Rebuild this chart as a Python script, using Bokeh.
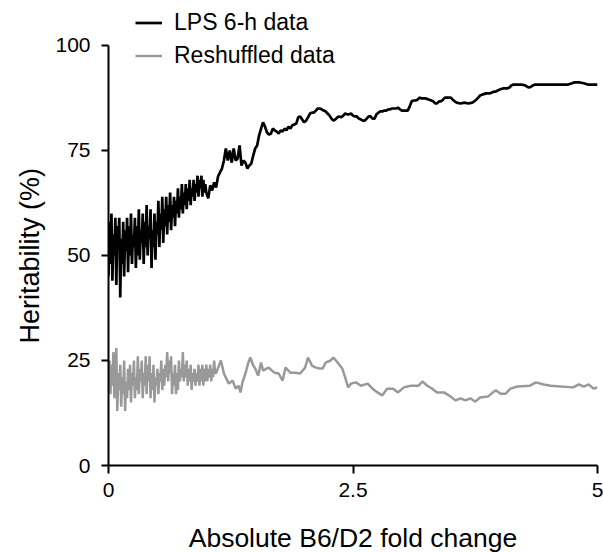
from bokeh.plotting import figure
from bokeh.models import Legend, LegendItem, FixedTicker, Range1d, Title
from bokeh.embed import file_html
from bokeh.resources import INLINE

# ---- data ----
lps_x = [0.00, 0.01, 0.02, 0.03, 0.04, 0.05, 0.06, 0.07, 0.08, 0.09,
         0.10, 0.11, 0.12, 0.13, 0.14, 0.15, 0.16, 0.17, 0.18, 0.19,
         0.20, 0.21, 0.22, 0.23, 0.24, 0.25, 0.26, 0.27, 0.28, 0.29,
         0.30, 0.31, 0.32, 0.33, 0.34, 0.35, 0.36, 0.37, 0.38, 0.39,
         0.40, 0.41, 0.42, 0.43, 0.44, 0.45, 0.46, 0.47, 0.48, 0.49,
         0.50, 0.51, 0.52, 0.53, 0.54, 0.55, 0.56, 0.57, 0.58, 0.59,
         0.60, 0.61, 0.62, 0.63, 0.64, 0.65, 0.66, 0.67, 0.68, 0.69,
         0.70, 0.71, 0.72, 0.73, 0.74, 0.75, 0.76, 0.77, 0.78, 0.79,
         0.80, 0.81, 0.82, 0.83, 0.84, 0.85, 0.86, 0.87, 0.88, 0.89,
         0.90, 0.91, 0.92, 0.93, 0.94, 0.95, 0.96, 0.97, 0.98, 0.99, 1.00,
         1.02, 1.04, 1.06, 1.08, 1.10, 1.12, 1.14, 1.16, 1.18, 1.20, 1.22, 1.24, 1.26, 1.28, 1.30,
         1.32, 1.34, 1.36, 1.38, 1.40, 1.42, 1.44, 1.46, 1.48, 1.50, 1.52, 1.54, 1.56, 1.58, 1.60,
         1.62, 1.64, 1.66, 1.68, 1.70, 1.72, 1.74, 1.76, 1.78, 1.80, 1.82, 1.84, 1.86, 1.88, 1.90,
         1.92, 1.94, 1.96, 1.98, 2.00, 2.02, 2.04, 2.06, 2.08, 2.10, 2.12, 2.14, 2.16, 2.18, 2.20,
         2.22, 2.24, 2.26, 2.28, 2.30, 2.32, 2.34, 2.36, 2.38, 2.40, 2.42, 2.44, 2.46, 2.48, 2.50,
         2.52, 2.54, 2.56, 2.58, 2.60, 2.62, 2.64, 2.66, 2.68, 2.70, 2.72, 2.74, 2.76, 2.78, 2.80,
         2.82, 2.84, 2.86, 2.88, 2.90, 2.92, 2.94, 2.96, 2.98, 3.00, 3.02, 3.04, 3.06, 3.08, 3.10,
         3.12, 3.14, 3.16, 3.18, 3.20, 3.24, 3.28, 3.32, 3.34, 3.36, 3.38, 3.40, 3.42, 3.44, 3.46,
         3.48, 3.50, 3.52, 3.54, 3.56, 3.60, 3.64, 3.68, 3.72, 3.74, 3.76, 3.78, 3.80, 3.82, 3.86,
         3.90, 3.92, 3.94, 3.96, 3.98, 4.00, 4.04, 4.08, 4.10, 4.12, 4.14, 4.18, 4.22, 4.26, 4.28,
         4.30, 4.32, 4.34, 4.36, 4.50, 4.60, 4.70, 4.74, 4.76, 4.82, 4.86, 4.90, 5.00]
lps_y = [45, 58, 48, 60, 44, 55, 50, 59, 43, 57,
         52, 59, 40, 54, 48, 58, 45, 56, 51, 59,
         46, 57, 50, 60, 48, 55, 52, 59, 47, 57,
         50, 61, 49, 56, 53, 60, 48, 58, 52, 62,
         50, 57, 54, 61, 47, 56, 52, 60, 49, 58,
         55, 63, 52, 60, 56, 64, 53, 61, 57, 64,
         55, 62, 58, 65, 56, 62, 59, 64, 57, 63,
         60, 66, 59, 64, 61, 67, 60, 65, 62, 67,
         61, 66, 63, 68, 62, 66, 64, 68, 63, 67,
         65, 69, 64, 68, 66, 69, 64, 68, 65, 67, 65,
         63.6, 66.7, 65.5, 67.4, 66.2, 68.8, 69.8, 70.7, 72.6, 75.5, 72.6, 75.0, 72.1, 75.5, 72.6,
         73.1, 76.2, 71.4, 72.6, 72.1, 70.7, 71.4, 71.9, 73.8, 75.5, 76.2, 78.6, 80.2, 81.7, 80.7,
         79.3, 78.8, 79.0, 80.2, 79.8, 79.5, 79.0, 79.8, 79.5, 80.2, 79.8, 80.7, 80.2, 81.0, 81.2,
         81.4, 82.9, 83.1, 82.4, 81.7, 82.1, 82.9, 83.8, 84.0, 84.0, 84.5, 85.0, 85.0, 84.8, 84.5,
         84.3, 83.8, 83.3, 82.6, 82.1, 82.4, 82.9, 83.1, 82.9, 83.3, 83.8, 83.6, 83.6, 83.8, 83.3,
         83.1, 83.1, 82.6, 82.4, 82.1, 82.1, 82.6, 83.1, 83.1, 82.6, 82.6, 83.6, 84.0, 84.3, 84.3,
         84.5, 84.5, 84.8, 84.8, 85.0, 85.0, 85.0, 85.2, 84.8, 84.5, 84.5, 84.5, 84.5, 85.5, 86.7,
         86.9, 86.9, 87.1, 87.6, 87.4, 87.4, 87.1, 86.7, 86.2, 86.2, 86.7, 86.7, 87.1, 87.6, 87.6,
         87.6, 87.6, 87.1, 86.7, 86.4, 86.2, 86.4, 86.2, 86.4, 86.7, 87.1, 87.6, 88.1, 88.3, 88.6,
         88.6, 88.8, 89.0, 89.0, 89.3, 89.5, 89.8, 89.8, 90.0, 90.5, 90.7, 90.7, 90.7, 90.5, 90.2,
         90.0, 90.2, 90.5, 90.7, 90.7, 90.7, 90.7, 91.0, 91.2, 91.2, 91.0, 90.7, 90.7]

shuf_x = [0.00, 0.01, 0.02, 0.03, 0.04, 0.05, 0.06, 0.07, 0.08, 0.09,
          0.10, 0.11, 0.12, 0.13, 0.14, 0.15, 0.16, 0.17, 0.18, 0.19,
          0.20, 0.21, 0.22, 0.23, 0.24, 0.25, 0.26, 0.27, 0.28, 0.29,
          0.30, 0.31, 0.32, 0.33, 0.34, 0.35, 0.36, 0.37, 0.38, 0.39,
          0.40, 0.41, 0.42, 0.43, 0.44, 0.45, 0.46, 0.47, 0.48, 0.49,
          0.50, 0.51, 0.52, 0.53, 0.54, 0.55, 0.56, 0.57, 0.58, 0.59,
          0.60, 0.61, 0.62, 0.63, 0.64, 0.65, 0.66, 0.67, 0.68, 0.69,
          0.70, 0.71, 0.72, 0.73, 0.74, 0.75, 0.76, 0.77, 0.78, 0.79,
          0.80, 0.81, 0.82, 0.83, 0.84, 0.85, 0.86, 0.87, 0.88, 0.89,
          0.90, 0.91, 0.92, 0.93, 0.94, 0.95, 0.96, 0.97, 0.98, 0.99,
          1.00, 1.01, 1.02, 1.03, 1.04, 1.05, 1.06, 1.07, 1.08, 1.09, 1.10,
          1.15, 1.18, 1.23, 1.27, 1.30, 1.33, 1.35, 1.37, 1.40, 1.43, 1.45, 1.48, 1.50, 1.53,
          1.56, 1.58, 1.62, 1.64, 1.67, 1.70, 1.74, 1.78, 1.81, 1.86, 1.91, 1.96, 2.01, 2.04, 2.08,
          2.12, 2.16, 2.19, 2.22, 2.27, 2.30, 2.35, 2.39, 2.42, 2.45, 2.48, 2.53, 2.58, 2.65, 2.70,
          2.75, 2.80, 2.85, 2.91, 2.96, 3.02, 3.09, 3.17, 3.21, 3.26, 3.31, 3.36, 3.43, 3.48, 3.55,
          3.60, 3.65, 3.70, 3.75, 3.80, 3.88, 3.93, 3.96, 4.01, 4.06, 4.11, 4.18, 4.31, 4.37, 4.45,
          4.52, 4.75, 4.81, 4.86, 4.91, 4.96, 5.00]
shuf_y = [20, 25, 17, 24, 19, 27, 16, 23, 28, 13,
          22, 18, 24, 14, 21, 17, 25, 13, 20, 16,
          23, 18, 24, 15, 22, 19, 25, 16, 21, 18,
          26, 17, 23, 20, 25, 16, 22, 19, 26, 17,
          24, 20, 26, 16, 22, 18, 24, 15, 21, 19,
          23, 17, 22, 20, 25, 18, 23, 19, 24, 21,
          27, 20, 25, 22, 26, 17, 22, 19, 24, 17,
          22, 18, 25, 20, 23, 21, 27, 20, 24, 21,
          25, 19, 23, 20, 24, 18, 22, 20, 23, 19,
          22, 20, 24, 19, 23, 20, 24, 19, 23, 20,
          24, 20, 23, 21, 24, 20, 23, 21, 25, 22, 22,
          25.0, 21.9, 19.5, 20.2, 18.3, 19.0, 17.4, 19.8, 21.9, 24.5, 25.7, 23.8, 23.1, 21.4,
          24.5, 22.6, 23.1, 23.3, 22.6, 22.1, 21.9, 20.2, 23.3, 22.1, 22.1, 21.9, 23.3, 25.7, 23.8,
          23.3, 23.1, 23.1, 24.5, 25.0, 25.7, 24.3, 23.1, 21.0, 18.6, 19.5, 19.8, 19.0, 19.5, 18.3,
          17.4, 16.7, 18.3, 18.3, 17.4, 18.6, 19.0, 19.0, 20.0, 19.0, 18.3, 17.4, 17.4, 16.7, 15.5,
          16.0, 15.5, 16.0, 15.2, 16.2, 16.4, 17.4, 17.9, 17.1, 17.1, 18.3, 18.8, 19.0, 19.8, 19.3,
          19.0, 18.6, 19.3, 18.8, 19.3, 18.3, 18.6]

x_ticks = [0, 2.5, 5]
x_tick_labels = {0: "0", 2.5: "2.5", 5: "5"}
y_ticks = [0, 25, 50, 75, 100]
y_axis_extent = (0, 100)

FONT = "Liberation Sans"

# frame: left 108, right 597, top 0, bottom 465 (4.2 px per % unit)
p = figure(frame_width=489, frame_height=465, output_backend="svg", toolbar_location=None,
           x_range=Range1d(0, 5), y_range=Range1d(0, 110.71),
           min_border_left=108, min_border_right=6, min_border_top=0, min_border_bottom=80)
p.outline_line_color = None
p.grid.visible = False
p.background_fill_color = "white"
p.border_fill_color = "white"

r_lps = p.line(lps_x, lps_y, line_color="black", line_width=2.7)
r_shuf = p.line(shuf_x, shuf_y, line_color="#999999", line_width=2.5)

for ax in (p.xaxis[0], p.yaxis[0]):
    ax.axis_line_width = 2
    ax.axis_line_color = "black"
    ax.major_tick_line_width = 2
    ax.major_tick_line_color = "black"
    ax.major_tick_in = 0
    ax.minor_tick_line_color = None
    ax.major_label_text_font = FONT
    ax.major_label_text_color = "black"
    ax.axis_label_text_font = FONT
    ax.axis_label_text_font_style = "normal"
    ax.axis_label_text_color = "black"

p.xaxis.ticker = FixedTicker(ticks=x_ticks)
p.xaxis.major_label_overrides = x_tick_labels
p.xaxis.major_tick_out = 8
p.xaxis.major_label_standoff = 9
p.xaxis.major_label_text_font_size = "21px"
p.xaxis.axis_label = "Absolute B6/D2 fold change"
p.xaxis.axis_label_text_font_size = "26.5px"
p.xaxis.axis_label_standoff = 23

p.yaxis.ticker = FixedTicker(ticks=y_ticks)
p.yaxis.bounds = y_axis_extent
p.yaxis.major_tick_out = 7
p.yaxis.major_label_standoff = 11
p.yaxis.major_label_text_font_size = "21px"

ytitle = Title(text="Heritability (%)", align="left", offset=122, standoff=16,
               text_font=FONT, text_font_size="27px", text_font_style="normal",
               text_color="black")
p.add_layout(ytitle, "left")

legend = Legend(items=[LegendItem(label="LPS 6-h data", renderers=[r_lps]),
                       LegendItem(label="Reshuffled data", renderers=[r_shuf])],
                location=(27, 396), orientation="vertical",
                padding=0, margin=0, spacing=6, glyph_width=27, glyph_height=25,
                label_height=25, label_standoff=12,
                label_text_font=FONT, label_text_font_size="23px",
                label_text_color="black",
                border_line_color=None, background_fill_alpha=0)
p.add_layout(legend, "center")

open("out.html", "w").write(file_html(p, INLINE))
